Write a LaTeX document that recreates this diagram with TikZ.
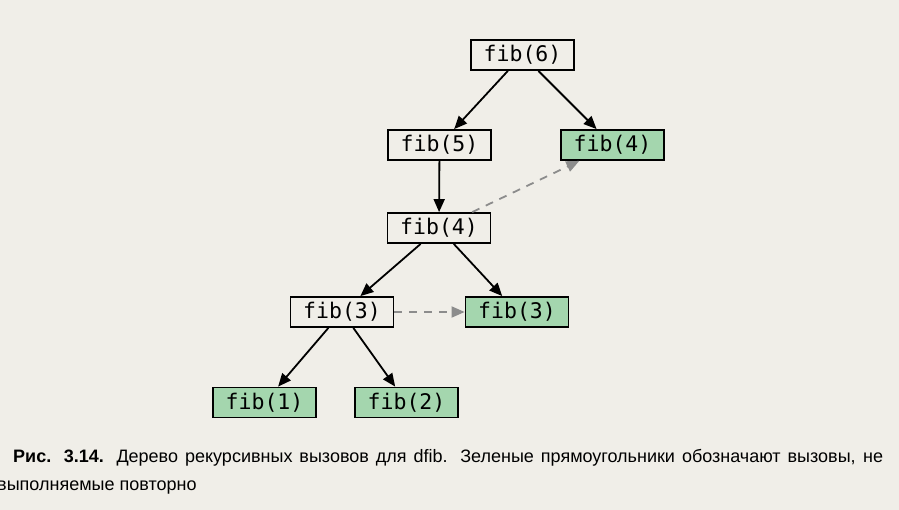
\documentclass[tikz,border=0pt]{standalone}
\usepackage{fontspec}
\setmainfont{Liberation Sans}
\newfontfamily\codefont{DejaVu Sans Mono}
\usetikzlibrary{arrows.meta}
\definecolor{bgc}{RGB}{240,238,232}
\definecolor{greenbox}{RGB}{164,214,174}
\definecolor{dashgray}{RGB}{140,140,140}
\tikzset{
  callbox/.style={draw=black, line width=1.8pt, minimum width=103pt, minimum height=30pt, inner sep=0pt, font=\codefont\fontsize{21.5}{21.5}\selectfont},
  donebox/.style={callbox, fill=greenbox},
  callarrow/.style={line width=1.8pt, -{Triangle[length=13pt,width=11pt]}},
  reusearrow/.style={line width=1.8pt, dashgray, dash pattern=on 8pt off 7pt, -{Triangle[length=13pt,width=11pt]}},
}
\begin{document}
\begin{tikzpicture}[x=1pt,y=-1pt]
\fill[bgc] (0,0) rectangle (899,510);
\useasboundingbox (0,0) rectangle (899,510);
\node[callbox] (f6) at (522.5,55) {fib(6)};
\node[callbox] (f5) at (439.5,145) {fib(5)};
\node[donebox] (f4g) at (612.5,145) {fib(4)};
\node[callbox] (f4) at (439,228) {fib(4)};
\node[callbox] (f3) at (342,312) {fib(3)};
\node[donebox] (f3g) at (517,312) {fib(3)};
\node[donebox] (f1) at (264.5,402.5) {fib(1)};
\node[donebox] (f2) at (406.5,402.5) {fib(2)};
\draw[callarrow] (f6) -- (f5);
\draw[callarrow] (f6) -- (f4g);
\draw[callarrow] (f5) -- (f4);
\draw[reusearrow] (f4) -- (f4g);
\draw[callarrow] (f4) -- (f3);
\draw[callarrow] (f4) -- (f3g);
\draw[reusearrow] (f3) -- (f3g);
\draw[callarrow] (f3) -- (f1);
\draw[callarrow] (f3) -- (f2);
\node[anchor=base west, inner sep=0pt, font=\fontsize{18}{18}\selectfont] (cap1) at (13,462)
  {\makebox[870pt][s]{\textbf{Рис. 3.14.} Дерево рекурсивных вызовов для dfib. Зеленые прямоугольники обозначают вызовы, не}};
\node[anchor=base west, inner sep=0pt, font=\fontsize{18}{18}\selectfont] (cap2) at (-3,490)
  {выполняемые повторно};
\end{tikzpicture}
\end{document}
